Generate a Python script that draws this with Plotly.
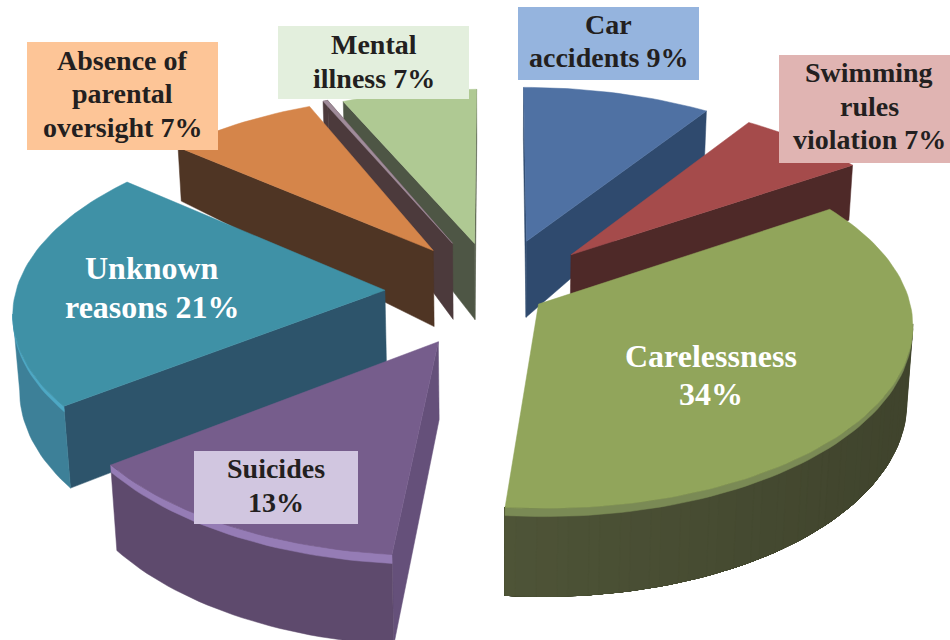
import numpy as np
import plotly.graph_objects as go

# --- data ---
categories = ["Car accidents", "Swimming rules violation", "Carelessness", "Suicides",
              "Unknown reasons", "Absence of parental oversight", "Other", "Mental illness"]
values = [9, 7, 34, 13, 21, 7, 1, 7]
pull = [0.30, 0.295, 0.135, 0.31, 0.30, 0.29, 0.30, 0.28]

label_texts = ["Car<br>accidents 9%", "Swimming<br>rules<br>violation 7%", "Carelessness<br>34%",
               "Suicides<br>13%", "Unknown<br>reasons 21%", "Absence of<br>parental<br>oversight 7%",
               None, "Mental<br>illness 7%"]

# --- styles ---
top_col = ["#4f71a3", "#a54b4b", "#91a55b", "#765d8c", "#3f91a6", "#d5854a", "#a08c9a", "#afc993"]
wall_col = ["#2f4a6e", "#4e2928", "#4c5237", "#65507a", "#2d546b", "#4f3524", "#4c3a3c", "#4e5645"]
rim_lo = ["#2f4a6e", "#4e2928", "#4f5538", "#5e4a6d", "#3d8098", "#4f3524", "#4c3a3c", "#4e5645"]
rim_hi = ["#2f4a6e", "#4e2928", "#40442d", "#5e4a6d", "#3d8098", "#4f3524", "#4c3a3c", "#4e5645"]
bevel_col = [None, None, "#7a8a55", "#957cb5", "#4ea8c4", None, None, None]
draw_order = [7, 6, 5, 0, 1, 4, 3, 2]
# the reference's tilted view skews slice boundaries a little (degrees, one per boundary)
view_skew_deg = [0, 0.8, -1.5, 3.5, 3.7, 4.5, 6, 1.5, 0]

CX, CY, RX, RY, K = 495.5, 291.5, 369.0, 180.0, 0.105


def project(u, v):
    s = 1.0 / (1.0 - K * v)
    return CX + RX * u * s, CY + RY * v * s


def depth(v):
    return np.interp(v, [-1.3, -0.75, -0.3, 0.0, 0.3, 1.3], [50, 55, 76, 76, 78, 91])


def bevel(v):
    return np.interp(v, [0.0, 1.2], [2, 9])


def lowered(x, y, d):
    return CX + (x - CX) * (1 - 0.015 * d / 80.0), y + d


def hex2rgb(h):
    return np.array([int(h[i:i + 2], 16) for i in (1, 3, 5)], float)


def mix(a, b, t):
    c = hex2rgb(a) * (1 - t) + hex2rgb(b) * t
    return "rgb(%d,%d,%d)" % tuple(c)


fig = go.Figure()


def poly(xs, ys, color, name):
    xs, ys = list(xs), list(ys)
    fig.add_trace(go.Scatter(x=xs + [xs[0]], y=ys + [ys[0]], mode="lines", fill="toself",
                             fillcolor=color, line=dict(color=color, width=0.5), name=name,
                             hoverinfo="name", showlegend=False))


def band(x, y, d, color, name):
    bx, by = lowered(x, y, d)
    poly(list(x) + list(bx[::-1]), list(y) + list(by[::-1]), color, name)


total = float(sum(values))
edges = np.concatenate([[0], np.cumsum(values)]) / total * 2 * np.pi + np.radians(view_skew_deg)

for i in draw_order:
    a0, a1 = edges[i], edges[i + 1]
    mid = (a0 + a1) / 2
    pu, pv = pull[i] * np.sin(mid), -pull[i] * np.cos(mid)
    t = np.linspace(a0, a1, max(3, int((a1 - a0) * 40)))
    u = pu + np.sin(t)
    v = pv - np.cos(t)
    xr, yr = project(u, v)
    ax, ay = project(pu, pv)
    dr, da = depth(v), float(depth(pv))
    name = categories[i]

    if xr[0] < ax:      # radial wall at the start of the slice
        band(np.array([ax, xr[0]]), np.array([ay, yr[0]]), np.array([da, dr[0]]), wall_col[i], name)
    if ax < xr[-1]:     # radial wall at the end of the slice
        band(np.array([ax, xr[-1]]), np.array([ay, yr[-1]]), np.array([da, dr[-1]]), wall_col[i], name)

    vis = [j for j in range(len(t) - 1) if xr[j + 1] < xr[j]]
    if vis:
        j0, j1 = vis[0], vis[-1] + 1
        xspan = max(xr.max() - xr.min(), 1)
        n_bands = 40 if rim_lo[i] != rim_hi[i] else 1
        for k in np.unique(np.linspace(j0, j1 - 1, n_bands).astype(int)):
            # every band runs on to the far end, so later bands paint over earlier ones without seams
            f = (xr[k] - xr.min()) / xspan
            band(xr[k:j1 + 1], yr[k:j1 + 1], dr[k:j1 + 1], mix(rim_lo[i], rim_hi[i], f), name)
        if bevel_col[i]:
            band(xr[j0:j1 + 1], yr[j0:j1 + 1], bevel(v[j0:j1 + 1]), bevel_col[i], name)
    poly([ax] + list(xr), [ay] + list(yr), top_col[i], name)

# label boxes
boxes = [
    (0, 518, 7, 699, 80, "#95b4de", 41),
    (1, 779, 55, 950, 163, "#e0b4b2", 106),
    (3, 194, 451, 358, 524, "#d1c6e0", 485.5),
    (5, 27, 42, 218, 150, "#fdc597", 93.5),
    (7, 278, 26, 469, 99, "#e3efdd", 61.5),
]


def put_label(i, x, y, size, color, leading):
    rows = label_texts[i].split("<br>")
    for k, row in enumerate(rows):
        fig.add_annotation(x=x, y=y + (k - (len(rows) - 1) / 2) * leading, text="<b>%s</b>" % row, showarrow=False,
                           font=dict(family="Liberation Serif", size=size, color=color),
                           xanchor="center", yanchor="middle")


for i, x0, y0, x1, y1, bg, yc in boxes:
    fig.add_shape(type="rect", x0=x0, x1=x1, y0=y0, y1=y1, fillcolor=bg, line_width=0, layer="above")
    put_label(i, (x0 + x1) / 2 + (4.5 if i == 1 else 0), yc, 28, "#231f20", 33.5)

put_label(2, 711, 375, 32, "#ffffff", 38.5)
put_label(4, 152, 287, 32, "#ffffff", 39)

fig.update_layout(
    width=950, height=640, margin=dict(l=0, r=0, t=0, b=0), showlegend=False,
    paper_bgcolor="white", plot_bgcolor="white",
    xaxis=dict(range=[0, 950], visible=False, fixedrange=True),
    yaxis=dict(range=[640, 0], visible=False, fixedrange=True),
)
fig.write_html("out.html", config={"displayModeBar": False},
               post_script="document.body.style.margin='0';document.body.style.overflow='hidden';")
